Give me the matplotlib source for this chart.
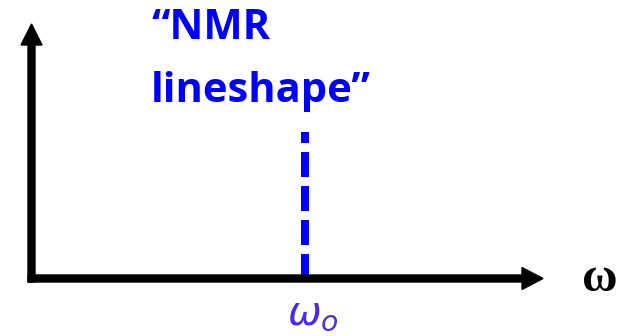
import matplotlib
matplotlib.use('Agg')
import matplotlib.pyplot as plt

# labels and positions (pixel space of the 626x336 picture)
title_lines = ['“NMR', 'lineshape”']
axis_label = 'ω'
peak_label = r'$\omega_o$'
omega0 = 305          # where the line sits on the frequency axis
line_top = 132        # top of the dashed line
origin = (31.5, 278.5)
x_end = 543
y_end = 24

fig = plt.figure(figsize=(6.26, 3.36), dpi=100)
ax = fig.add_axes([0, 0, 1, 1])
ax.set_xlim(0, 626)
ax.set_ylim(336, 0)
ax.axis('off')

blue = '#0000ff'
px = 72 / fig.dpi   # points per pixel

# dashed "NMR line" at omega0
ax.plot([omega0, omega0], [origin[1], line_top], color=blue, lw=8 * px,
        linestyle=(0, (25 / 8, 9 / 8)), solid_capstyle='butt', zorder=1)

# axes as thick arrows
ax.arrow(origin[0] - 3.5, origin[1], x_end - origin[0] + 3.5, 0, width=7,
         head_width=22, head_length=21, length_includes_head=True,
         color='black', zorder=2)
ax.arrow(origin[0], origin[1] + 3.5, 0, y_end - origin[1] - 3.5, width=7,
         head_width=21, head_length=21, length_includes_head=True,
         color='black', zorder=2)

# title text
for txt, base in zip(title_lines, [39, 102]):
    ax.text(151, base, txt, color=blue, fontsize=30, fontweight='bold',
            family='Open Sans', va='baseline', ha='left')

ax.text(600, 279, axis_label, color='black', fontsize=35, fontweight='bold',
        family='Liberation Serif', va='center', ha='center')
ax.text(omega0 + 8, 313, peak_label, color='#4a2af0', fontsize=29,
        va='center', ha='center')

fig.savefig('out.png', dpi=100)
